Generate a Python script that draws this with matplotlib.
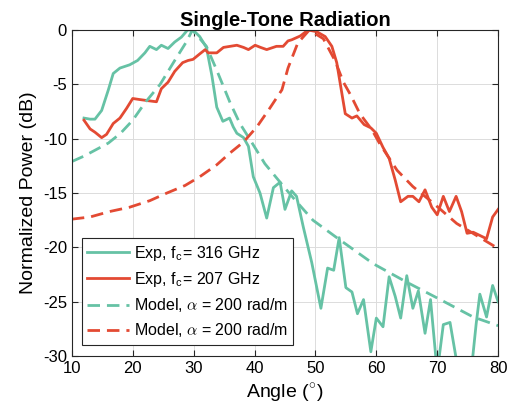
import numpy as np
import matplotlib
matplotlib.use("Agg")
import matplotlib.pyplot as plt

plt.rcParams["font.family"] = ["Liberation Sans", "DejaVu Sans"]
plt.rcParams["mathtext.fontset"] = "cm"
plt.rcParams["axes.unicode_minus"] = False

# measured, f_c = 316 GHz
ang_316 = [12.0, 13.0, 13.8, 14.9, 16.0, 16.8, 17.9, 19.5, 20.8, 22.0, 22.8, 23.9, 24.7, 25.8,
           26.9, 28.0, 29.0, 29.9, 31.0, 32.1, 33.0, 33.8, 34.8, 35.9, 36.5, 37.1, 38.2, 39.0,
           39.8, 40.9, 42.0, 43.1, 44.2, 45.0, 46.1, 46.9, 48.0, 49.4, 50.9, 52.0, 53.0, 53.9,
           55.0, 56.0, 56.9, 57.9, 59.1, 60.0, 61.1, 62.1, 63.1, 64.0, 65.0, 66.0, 66.9, 68.0,
           68.9, 70.0, 71.0, 72.1, 73.5, 74.4, 75.2, 76.4, 77.0, 78.1, 79.1, 80.0]
pw_316 = [-8.1, -8.2, -8.2, -7.4, -5.5, -4.0, -3.5, -3.2, -2.8, -2.1, -1.5, -1.8, -1.4, -1.7,
          -1.1, -0.65, 0.0, 0.0, -0.6, -1.6, -4.2, -7.1, -8.4, -8.1, -8.9, -9.5, -9.9, -10.7,
          -13.5, -15.0, -17.3, -14.5, -14.0, -16.5, -14.8, -15.3, -18.1, -21.4, -25.6, -21.9, -22.1, -19.1,
          -23.7, -24.1, -26.1, -24.8, -29.6, -26.5, -27.3, -22.7, -24.5, -26.5, -22.6, -25.6, -24.0, -27.9,
          -24.8, -31.5, -27.1, -26.9, -31.5, -33.0, -33.5, -27.0, -24.3, -26.4, -23.5, -25.0]

# measured, f_c = 207 GHz
ang_207 = [12.0, 13.0, 13.8, 14.9, 15.7, 16.8, 17.9, 19.0, 20.0, 21.2, 22.5, 23.9, 24.7, 25.8,
           26.9, 28.2, 29.1, 29.9, 31.0, 31.9, 32.4, 33.8, 34.9, 36.0, 37.1, 38.2, 39.0, 40.1,
           41.0, 42.0, 43.6, 44.7, 45.5, 46.1, 47.5, 48.8, 50.2, 51.6, 52.7, 53.5, 54.9, 56.0,
           56.8, 58.0, 59.1, 60.0, 61.1, 62.1, 63.1, 64.0, 65.2, 66.0, 67.0, 68.0, 69.1, 70.0,
           71.0, 72.0, 73.1, 74.0, 74.9, 75.9, 77.0, 78.1, 79.1, 80.0]
pw_207 = [-8.3, -9.1, -9.4, -9.9, -9.6, -8.6, -8.1, -7.2, -6.3, -6.4, -6.5, -6.6, -5.4, -4.8,
          -3.8, -3.0, -2.8, -2.7, -2.2, -1.8, -2.1, -2.1, -1.6, -1.5, -1.4, -1.6, -1.8, -1.4,
          -1.6, -1.8, -1.5, -1.5, -1.0, -0.9, -0.55, 0.0, -0.15, -0.6, -1.5, -3.0, -7.7, -8.1,
          -7.9, -8.7, -9.0, -9.5, -10.8, -11.8, -13.8, -15.8, -15.3, -15.3, -15.8, -14.7, -16.3, -17.0,
          -15.3, -16.7, -15.3, -16.7, -18.7, -18.6, -18.9, -19.2, -17.2, -16.5]

# model curves, alpha = 200 rad/m
ang_mod_316 = [10.0, 12.0, 14.0, 16.0, 18.0, 20.0, 22.0, 24.5, 26.9, 28.8, 29.8, 32.1, 33.8, 36.0,
               37.6, 39.5, 41.7, 44.2, 46.6, 49.6, 53.5, 59.5, 65.0, 70.5, 75.9, 80.0]
pw_mod_316 = [-12.1, -11.6, -11.0, -10.4, -9.5, -8.3, -6.7, -5.0, -2.8, -1.1, 0.0, -1.5, -3.7, -6.7,
              -8.6, -10.3, -12.3, -14.0, -15.6, -17.5, -19.1, -21.5, -23.2, -24.8, -26.4, -27.2]
ang_mod_207 = [10.0, 13.0, 16.2, 19.5, 22.8, 25.6, 28.6, 31.0, 33.8, 36.0, 38.2, 40.4, 42.5, 44.5,
               45.5, 47.1, 49.0, 51.3, 53.2, 54.6, 55.8, 57.3, 59.3, 60.6, 63.4, 66.0, 69.3, 73.2, 80.0]
pw_mod_207 = [-17.4, -17.2, -16.7, -16.3, -15.7, -15.0, -14.3, -13.5, -12.4, -11.3, -10.3, -8.9, -7.2, -5.5,
              -3.5, -1.2, 0.0, -0.8, -2.8, -4.8, -6.0, -7.7, -9.2, -10.5, -12.9, -14.4, -15.9, -17.8, -20.1]

green = "#66c2a5"
red = "#e34a33"

fig = plt.figure(figsize=(5.13, 4.17), dpi=100)
ax = fig.add_axes([0.140, 0.146, 0.831, 0.782])

ax.plot(ang_316, pw_316, color=green, lw=2, label=r"Exp, f$_\mathregular{c}$= 316 GHz")
ax.plot(ang_207, pw_207, color=red, lw=2, label=r"Exp, f$_\mathregular{c}$= 207 GHz")
ax.plot(ang_mod_316, pw_mod_316, color=green, lw=2, dashes=(4.5, 2.5), label=r"Model, $\alpha$ = 200 rad/m")
ax.plot(ang_mod_207, pw_mod_207, color=red, lw=2, dashes=(4.5, 2.5), label=r"Model, $\alpha$ = 200 rad/m")

ax.set_xlim(10, 80)
ax.set_ylim(-30, 0)
ax.set_xticks(np.arange(10, 81, 10))
ax.set_yticks(np.arange(-30, 1, 5))
ax.grid(True, color="#dcdcdc", lw=0.7)
ax.tick_params(direction="in", top=True, right=True, labelsize=12, length=4, color="#262626")
for s in ax.spines.values():
    s.set_color("#262626")
    s.set_linewidth(0.8)

ax.set_title("Single-Tone Radiation", fontsize=14.5, fontweight="bold", pad=3)
ax.set_xlabel(r"Angle ($^{\circ}$)", fontsize=14)
ax.set_ylabel("Normalized Power (dB)", fontsize=14)

leg = ax.legend(loc="lower left", fontsize=11.5, fancybox=False, framealpha=1, edgecolor="#262626",
                handlelength=2.6, borderpad=0.35, labelspacing=0.45, handletextpad=0.3,
                borderaxespad=0, bbox_to_anchor=(0.023, 0.034))
leg.get_frame().set_linewidth(0.8)

fig.savefig("out.png", dpi=100)
